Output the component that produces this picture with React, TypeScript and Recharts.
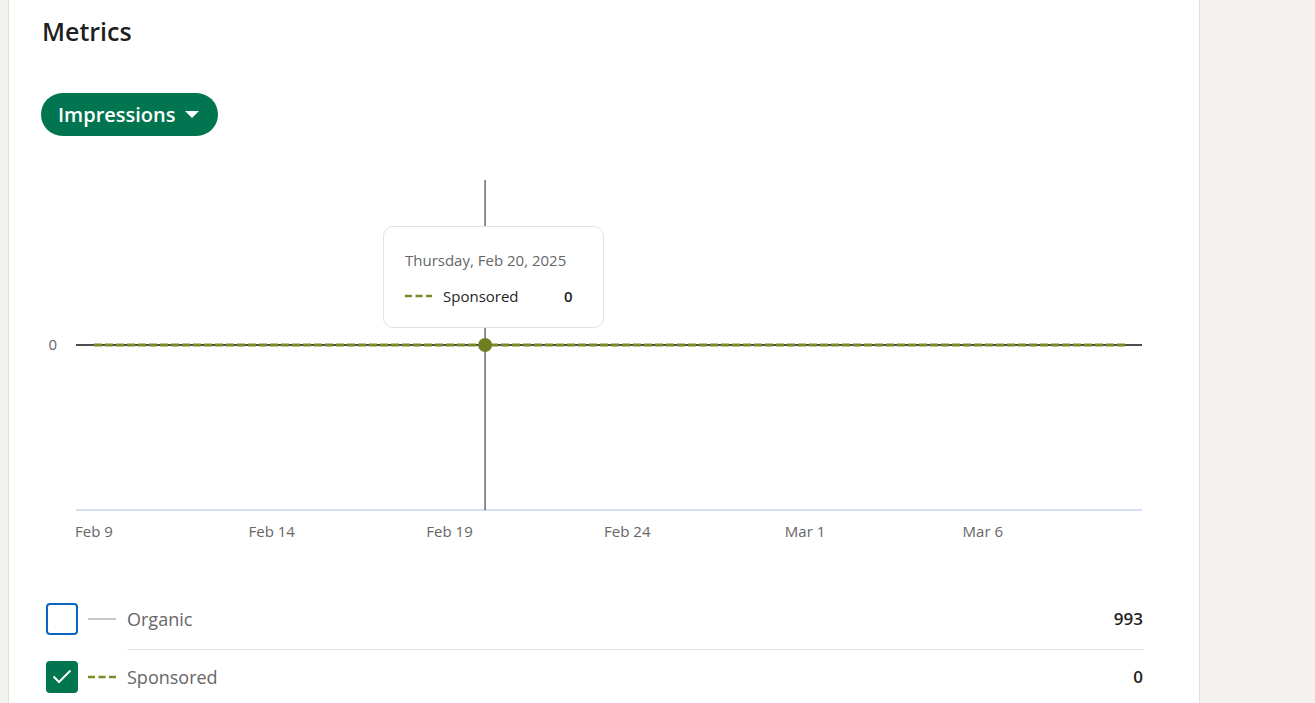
import React from 'react';
import { LineChart, Line, XAxis, YAxis, Tooltip, CartesianGrid } from 'recharts';

// one point per day, Feb 9 – Mar 10 2025
const dates = [
  '2025-02-09', '2025-02-10', '2025-02-11', '2025-02-12', '2025-02-13', '2025-02-14',
  '2025-02-15', '2025-02-16', '2025-02-17', '2025-02-18', '2025-02-19', '2025-02-20',
  '2025-02-21', '2025-02-22', '2025-02-23', '2025-02-24', '2025-02-25', '2025-02-26',
  '2025-02-27', '2025-02-28', '2025-03-01', '2025-03-02', '2025-03-03', '2025-03-04',
  '2025-03-05', '2025-03-06', '2025-03-07', '2025-03-08', '2025-03-09', '2025-03-10',
];
const sponsored = [
  0, 0, 0, 0, 0, 0, 0, 0, 0, 0, 0, 0, 0, 0, 0,
  0, 0, 0, 0, 0, 0, 0, 0, 0, 0, 0, 0, 0, 0, 0,
];
const yTicks = [0];
const totals = { organic: 993, sponsored: 0 };

const MONTHS = ['Jan', 'Feb', 'Mar', 'Apr', 'May', 'Jun', 'Jul', 'Aug', 'Sep', 'Oct', 'Nov', 'Dec'];
const WEEKDAYS = ['Sunday', 'Monday', 'Tuesday', 'Wednesday', 'Thursday', 'Friday', 'Saturday'];

const OLIVE = '#798b24';
const GREEN = '#01754f';
const FONT = '"Open Sans", "Noto Sans", sans-serif';

const data = dates.map((date, i) => ({ date, sponsored: sponsored[i] }));

const shortDate = (s: string) => {
  const [, m, d] = s.split('-').map(Number);
  return `${MONTHS[m - 1]} ${d}`;
};

const longDate = (s: string) => {
  const [y, m, d] = s.split('-').map(Number);
  const wd = new Date(y, m - 1, d).getDay();
  return `${WEEKDAYS[wd]}, ${MONTHS[m - 1]} ${d}, ${y}`;
};

const Dashes = ({ width = 28 }: { width?: number }) => (
  <svg width={width} height={4} style={{ display: 'block' }}>
    <line x1={0} y1={2} x2={width} y2={2} stroke={OLIVE} strokeWidth={2.5} strokeDasharray="7 3.5" />
  </svg>
);

const TipContent = ({ payload, label }: any) => {
  if (!payload || !payload.length) return null;
  return (
    <div
      style={{
        width: 221,
        height: 102,
        boxSizing: 'border-box',
        background: '#fff',
        border: '1px solid #e2e2e2',
        borderRadius: 10,
        padding: '23px 0 0 21px',
        fontFamily: FONT,
      }}
    >
      <div style={{ fontSize: 15, color: '#666', lineHeight: '20px' }}>{longDate(label)}</div>
      <div style={{ display: 'flex', alignItems: 'center', marginTop: 16, height: 20 }}>
        <Dashes width={27} />
        <span style={{ marginLeft: 11, fontSize: 15, color: '#1f1f1f', width: 121 }}>Sponsored</span>
        <span style={{ fontSize: 15, fontWeight: 600, color: '#1f1f1f' }}>{payload[0].value}</span>
      </div>
    </div>
  );
};

const Checkbox = ({ checked }: { checked: boolean }) => (
  <div
    style={{
      width: 32,
      height: 32,
      boxSizing: 'border-box',
      borderRadius: 4,
      border: checked ? 'none' : '2px solid #0a66c2',
      background: checked ? GREEN : '#fff',
      display: 'flex',
      alignItems: 'center',
      justifyContent: 'center',
    }}
  >
    {checked && (
      <svg width={24} height={24} viewBox="0 0 24 24">
        <path d="M3.5 11.5 L9 17 L20.5 5.5" fill="none" stroke="#fff" strokeWidth={2} />
      </svg>
    )}
  </div>
);

const App: React.FC = () => {
  return (
    <div
      style={{
        position: 'absolute',
        left: 0,
        top: 0,
        width: 1315,
        height: 703,
        background: '#f3f2ef',
        overflow: 'hidden',
        fontFamily: FONT,
      }}
    >
      {/* card */}
      <div
        style={{
          position: 'absolute',
          left: 8,
          top: -20,
          width: 1190,
          height: 760,
          background: '#fff',
          borderLeft: '1px solid #e0dfdb',
          borderRight: '1px solid #e0dfdb',
        }}
      />

      <div
        style={{
          position: 'absolute',
          left: 42,
          top: 14,
          fontSize: 25,
          fontWeight: 600,
          color: 'rgba(0,0,0,0.9)',
          lineHeight: '34px',
        }}
      >
        Metrics
      </div>

      {/* metric picker */}
      <div
        style={{
          position: 'absolute',
          left: 41,
          top: 93,
          width: 177,
          height: 43,
          borderRadius: 22,
          background: GREEN,
          color: '#fff',
          display: 'flex',
          alignItems: 'center',
          boxSizing: 'border-box',
          paddingLeft: 17,
          fontSize: 20,
          fontWeight: 600,
        }}
      >
        Impressions
        <svg width={14} height={8} style={{ marginLeft: 9 }}>
          <path d="M0 0 L14 0 L7 7 Z" fill="#fff" />
        </svg>
      </div>

      {/* chart */}
      <div style={{ position: 'absolute', left: 0, top: 160 }}>
        <LineChart width={1200} height={390} data={data} margin={{ top: 20, right: 58, left: 36, bottom: 0 }}>
          {/* zero baseline, drawn under the series */}
          <CartesianGrid vertical={false} horizontalValues={yTicks} stroke="#111" strokeWidth={1.5} />
          <XAxis
            dataKey="date"
            interval={4}
            tickFormatter={shortDate}
            tickLine={false}
            axisLine={{ stroke: '#c5d4ef', strokeWidth: 1.5 }}
            tick={{ fill: '#666', fontSize: 15, fontFamily: FONT }}
            tickMargin={10}
            padding={{ left: 18, right: 17 }}
            height={40}
          />
          <YAxis
            domain={[-1, 1]}
            ticks={yTicks}
            width={40}
            axisLine={false}
            tickLine={false}
            tickMargin={13}
            tick={{ fill: '#666', fontSize: 15, fontFamily: FONT }}
          />
          <Tooltip
            active
            defaultIndex={11}
            content={<TipContent />}
            position={{ x: 383, y: 66 }}
            cursor={{ stroke: '#222', strokeWidth: 1 }}
            wrapperStyle={{ outline: 'none' }}
            isAnimationActive={false}
          />
          <Line
            type="linear"
            dataKey="sponsored"
            stroke={OLIVE}
            strokeWidth={3}
            strokeDasharray="8 3"
            dot={false}
            activeDot={{ r: 7, fill: '#6e8022', stroke: 'none' }}
            isAnimationActive={false}
          />
        </LineChart>
      </div>

      {/* legend rows */}
      <div style={{ position: 'absolute', left: 46, top: 603 }}>
        <Checkbox checked={false} />
      </div>
      <div style={{ position: 'absolute', left: 88, top: 618, width: 28, height: 2, background: '#c8c8c8' }} />
      <div style={{ position: 'absolute', left: 127, top: 607, fontSize: 18, color: '#666', lineHeight: '24px' }}>
        Organic
      </div>
      <div
        style={{
          position: 'absolute',
          right: 1315 - 1143,
          top: 607,
          fontSize: 17,
          fontWeight: 600,
          color: '#1f1f1f',
          lineHeight: '24px',
        }}
      >
        {totals.organic}
      </div>

      <div style={{ position: 'absolute', left: 127, top: 649, width: 1017, height: 1, background: '#e6e6e6' }} />

      <div style={{ position: 'absolute', left: 46, top: 661 }}>
        <Checkbox checked />
      </div>
      <div style={{ position: 'absolute', left: 88, top: 675 }}>
        <Dashes width={28} />
      </div>
      <div style={{ position: 'absolute', left: 127, top: 665, fontSize: 18, color: '#666', lineHeight: '24px' }}>
        Sponsored
      </div>
      <div
        style={{
          position: 'absolute',
          right: 1315 - 1143,
          top: 665,
          fontSize: 17,
          fontWeight: 600,
          color: '#1f1f1f',
          lineHeight: '24px',
        }}
      >
        {totals.sponsored}
      </div>
    </div>
  );
};

export default App;
